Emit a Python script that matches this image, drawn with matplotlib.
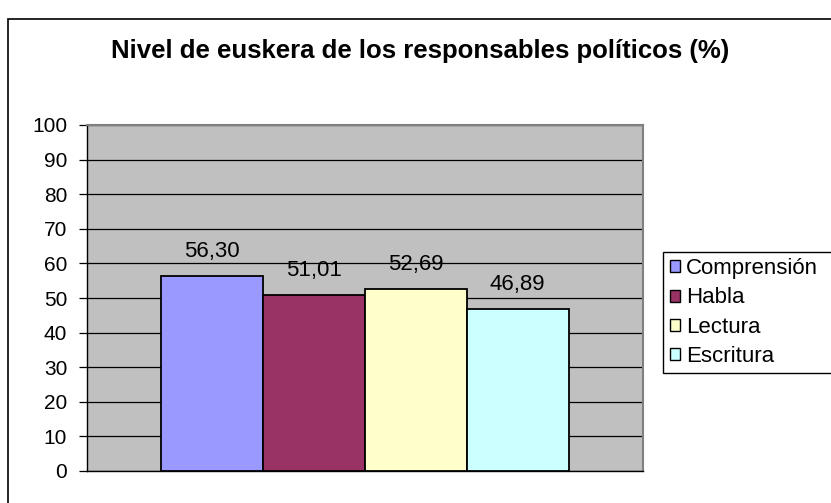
import matplotlib
matplotlib.use('Agg')
import matplotlib.pyplot as plt
from matplotlib.patches import Patch

title = 'Nivel de euskera de los responsables políticos (%)'
series = ['Comprensión', 'Habla', 'Lectura', 'Escritura']
values = [56.30, 51.01, 52.69, 46.89]
colors = ['#9999FF', '#993366', '#FFFFCC', '#CCFFFF']
yticks = [0, 10, 20, 30, 40, 50, 60, 70, 80, 90, 100]

plt.rcParams['font.family'] = ['Liberation Sans', 'DejaVu Sans']

fig = plt.figure(figsize=(8.31, 5.03), dpi=100)

# Outer chart frame (cropped on right and bottom in the reference).
frame = plt.Rectangle((7.5 / 831, -0.1), 1.0, 1.1 - 19 / 503, transform=fig.transFigure,
                      fill=False, edgecolor='black', linewidth=1.2)
fig.patches.append(frame)

ax = fig.add_axes([87 / 831, 1 - 471 / 503, 556 / 831, 346 / 503])
ax.set_facecolor('#C0C0C0')

x = list(range(len(values)))
ax.bar(x, values, width=1.0, color=colors, edgecolor='black', linewidth=1.3, zorder=3)
for xi, v in zip(x, values):
    ax.annotate(f'{v:.2f}'.replace('.', ','), (xi, v), xytext=(0, 10), textcoords='offset points',
                ha='center', va='bottom', fontsize=16, zorder=4)

ax.set_xlim(-1.23, 4.23)
ax.set_ylim(0, 100)
ax.set_yticks(yticks)
ax.set_yticklabels([str(t) for t in yticks], fontsize=15)
ax.set_xticks([])
ax.yaxis.grid(True, color='black', linewidth=0.9, zorder=1)
ax.set_axisbelow(True)
ax.tick_params(axis='y', length=5.8, width=0.9, color='black', pad=8.5)

for side in ['left', 'bottom']:
    ax.spines[side].set_color('black')
    ax.spines[side].set_linewidth(1.0)
for side in ['top', 'right']:
    ax.spines[side].set_color('#808080')
    ax.spines[side].set_linewidth(1.5)

fig.text(420 / 831, 1 - 51 / 503, title, ha='center', va='center',
         fontsize=18.5, fontweight='bold')

# Legend box runs off the right edge of the image, like the reference.
legbox = plt.Rectangle((663 / 831, 1 - 373 / 503), 0.4, 121 / 503, transform=fig.transFigure,
                       facecolor='white', edgecolor='black', linewidth=1.0)
fig.patches.append(legbox)

handles = [Patch(facecolor=c, edgecolor='black', linewidth=1.0) for c in colors]
leg = fig.legend(handles, series, loc='upper left', bbox_to_anchor=(664 / 831, 1 - 252 / 503),
                 fontsize=16, frameon=False,
                 handlelength=0.45, handleheight=0.45, handletextpad=0.25,
                 labelspacing=0.37, borderpad=0.28, borderaxespad=0)

fig.savefig('out.png', dpi=100)
